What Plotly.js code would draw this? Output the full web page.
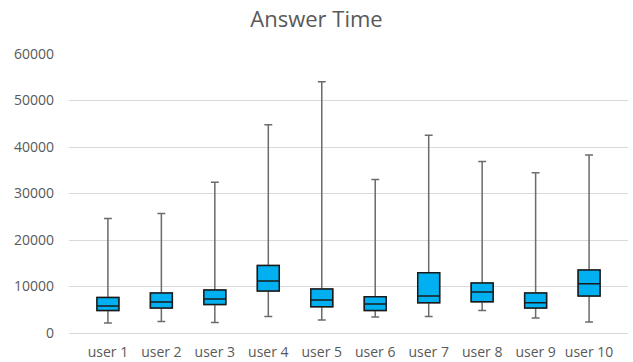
<!DOCTYPE html>
<html><head><meta charset="utf-8">
<script src="https://cdn.plot.ly/plotly-3.0.1.min.js"></script>
<style>html,body{margin:0;padding:0;background:#fff}#chart{width:633px;height:362px}</style>
</head><body><div id="chart"></div>
<script>
const categories = ["user 1","user 2","user 3","user 4","user 5","user 6","user 7","user 8","user 9","user 10"];
const minValues    = [2150, 2490, 2280, 3570, 2790, 3440, 3570, 4860, 3220, 2360];
const q1Values     = [4860, 5370, 6150, 9020, 5650, 4860, 6510, 6720, 5370, 7950];
const medianValues = [5800, 6660, 7300, 11170, 7090, 6230, 7950, 8810, 6510, 10590];
const q3Values     = [7650, 8590, 9240, 14520, 9450, 7800, 12950, 10740, 8590, 13530];
const maxValues    = [24620, 25700, 32440, 44810, 54050, 33000, 42530, 36870, 34440, 38300];
const yTicks = [0, 10000, 20000, 30000, 40000, 50000, 60000];

const whiskers = {
  type: 'box', x: categories, q1: q1Values, median: medianValues, q3: q3Values,
  lowerfence: minValues, upperfence: maxValues,
  width: 0.41, whiskerwidth: 0.36,
  fillcolor: 'rgba(0,0,0,0)', line: {color: '#6b6b6b', width: 1.5},
  hoverinfo: 'skip', showlegend: false
};
const boxes = {
  type: 'box', x: categories, q1: q1Values, median: medianValues, q3: q3Values,
  lowerfence: q1Values, upperfence: q3Values,
  width: 0.41, whiskerwidth: 0,
  fillcolor: '#00B0F0', line: {color: '#1a1a1a', width: 1.5},
  showlegend: false
};

const FONT = '"Open Sans", "Noto Sans", sans-serif';
const layout = {
  width: 633, height: 362,
  margin: {l: 69, r: 5, t: 54, b: 29},
  paper_bgcolor: '#fff', plot_bgcolor: '#fff',
  font: {family: FONT, color: '#595959', size: 14},
  title: {text: 'Answer Time', x: 0.5, xanchor: 'center', y: 0.948, yanchor: 'middle',
          font: {family: FONT, size: 22, color: '#595959'}},
  boxmode: 'overlay',
  showlegend: false,
  xaxis: {type: 'category', showgrid: false, showline: true, linecolor: '#d9d9d9', linewidth: 1,
          ticks: '', ticklabelstandoff: 6, tickfont: {family: FONT, size: 14, color: '#595959'}, zeroline: false},
  yaxis: {range: [0, 60000], tickvals: yTicks, ticktext: yTicks.map(String),
          showgrid: true, gridcolor: '#d9d9d9', gridwidth: 1, zeroline: false, showline: false,
          ticks: '', ticklabelstandoff: 14, tickfont: {family: FONT, size: 14, color: '#595959'}}
};
Plotly.newPlot('chart', [whiskers, boxes], layout, {staticPlot: true, displayModeBar: false});
</script></body></html>
